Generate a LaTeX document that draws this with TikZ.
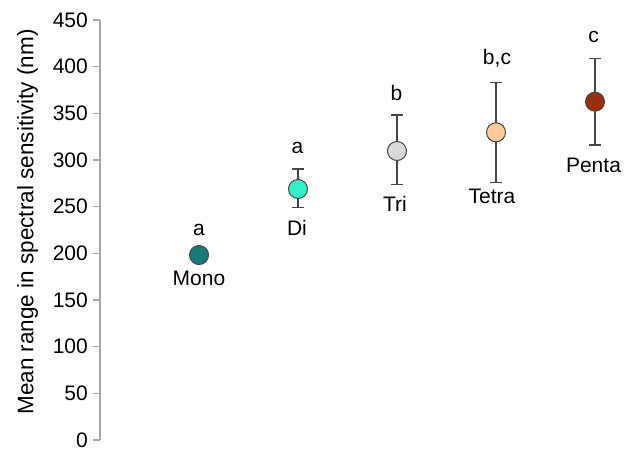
\documentclass[tikz,border=0pt]{standalone}
\usepackage{fontspec}
\setmainfont{Liberation Sans}
\definecolor{axisgray}{HTML}{A8A8A8}
\definecolor{bargray}{HTML}{454545}
\definecolor{cmono}{HTML}{1A7A7A}
\definecolor{cdi}{HTML}{33F0C8}
\definecolor{ctri}{HTML}{D9D9D9}
\definecolor{ctetra}{HTML}{FFCC99}
\definecolor{cpenta}{HTML}{9B2F0C}
\begin{document}
\begin{tikzpicture}[x=1pt,y=-1pt,
  every node/.style={font=\fontsize{21}{25}\selectfont, text=black},
  axisline/.style={draw=axisgray, line width=1.4pt},
  ticklab/.style={anchor=east, inner sep=0pt},
  errbar/.style={draw=bargray, line width=1.15pt},
  pt/.style={circle, draw=bargray, line width=1pt, minimum size=19pt, inner sep=0pt},
  lab/.style={anchor=base, inner sep=0pt}]
\useasboundingbox (0,0) rectangle (630,451);
% axis
\coordinate (atop) at (100,20);
\coordinate (abot) at (100,440);
\draw[axisline] (atop) -- (abot);
\foreach \v in {0,50,...,450}{
  \pgfmathsetmacro{\yy}{440-0.93333*\v}
  \coordinate (t\v) at (100,\yy);
  \coordinate (s\v) at (93,\yy);
  \draw[axisline] (s\v) -- (t\v);
  \node[ticklab] (l\v) at (88,\yy) {\v};
}
\node[rotate=90, font=\fontsize{22.5}{26}\selectfont] (ylab) at (27.5,222) {Mean range in spectral sensitivity (nm)};
% error bars
\coordinate (dit) at (298,169); \coordinate (dib) at (298,207.3);
\coordinate (tritp) at (397,115); \coordinate (trib) at (397,184.3);
\coordinate (tett) at (496,82.3); \coordinate (tetb) at (496,182.3);
\coordinate (pent) at (595,58.3); \coordinate (penb) at (595,145);
\foreach \a/\b in {dit/dib,tritp/trib,tett/tetb,pent/penb}{
  \draw[errbar] (\a) -- (\b);
  \draw[errbar] ([xshift=-6pt]\a) -- ([xshift=6pt]\a);
  \draw[errbar] ([xshift=-6pt]\b) -- ([xshift=6pt]\b);
}
% points
\node[pt, fill=cmono] (mono) at (199,255) {};
\node[pt, fill=cdi] (di) at (298,189) {};
\node[pt, fill=ctri] (tri) at (397,151) {};
\node[pt, fill=ctetra] (tetra) at (496,132.3) {};
\node[pt, fill=cpenta] (penta) at (595,101.7) {};
% labels
\node[lab] (monoa) at (199,235.5) {a};
\node[lab] (monol) at (199,285.7) {Mono};
\node[lab] (dia) at (297.5,153.3) {a};
\node[lab] (dil) at (297,235) {Di};
\node[lab] (trib2) at (396.5,100.5) {b};
\node[lab] (tril) at (395,211.7) {Tri};
\node[lab] (tetbc) at (497,64.5) {b,c};
\node[lab] (tetl) at (492,203) {Tetra};
\node[lab] (penc) at (593.5,42.7) {c};
\node[lab] (penl) at (593.5,172.7) {Penta};
\end{tikzpicture}
\end{document}
